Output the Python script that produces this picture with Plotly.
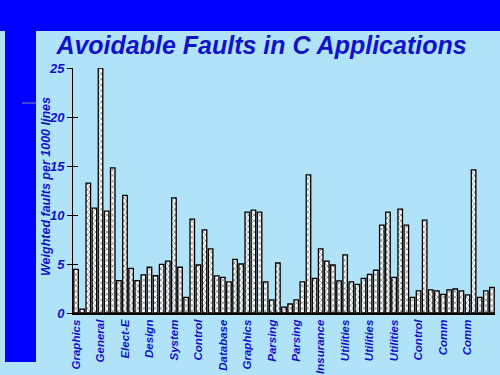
import plotly.graph_objects as go

# ---- data ----
fault_values = [4.46, 0.4, 13.25, 10.7, 25.0, 10.4, 14.8, 3.3, 12.0, 4.56,
                3.3, 3.9, 4.67, 3.8, 4.97, 5.3, 11.75, 4.67, 1.6, 9.57,
                4.9, 8.48, 6.54, 3.78, 3.64, 3.17, 5.48, 5.0, 10.3, 10.5,
                10.3, 3.17, 1.33, 5.1, 0.6, 0.92, 1.33, 3.17, 14.1, 3.54,
                6.54, 5.3, 4.9, 3.27, 5.93, 3.17, 2.93, 3.54, 3.95, 4.36,
                8.96, 10.3, 3.64, 10.6, 8.96, 1.6, 2.25, 9.47, 2.35, 2.25,
                1.9, 2.35, 2.45, 2.25, 1.84, 14.6, 1.6, 2.25, 2.62]
tick_labels = ["Graphics", "General", "Elect-E", "Design", "System", "Control",
               "Database", "Graphics", "Parsing", "Parsing", "Insurance",
               "Utilities", "Utilities", "Utilities", "Control", "Comm", "Comm"]
label_step = 4
y_ticks = [0, 5, 10, 15, 20, 25]

bar_index = list(range(len(fault_values)))
tick_positions = bar_index[::label_step][:len(tick_labels)]

W, H = 500, 375
L, R, T, B = 73, 495, 68, 313
BLUE_TEXT = "#1212cc"
BG = "#b0e2f8"
FONT = "Liberation Sans, Arial, sans-serif"

def px_x(p):
    return (p - L) / (R - L)

def px_y(p):
    return (B - p) / (B - T)

fig = go.Figure()
fig.add_trace(go.Bar(
    x=bar_index, y=fault_values,
    marker=dict(color="white", line=dict(color="black", width=1.3),
                pattern=dict(shape="x", fgcolor="black", bgcolor="white",
                             size=4, solidity=0.35)),
    width=0.74, showlegend=False, hoverinfo="skip", yaxis="y"))
fig.add_trace(go.Scatter(x=[None], y=[None], yaxis="y2", showlegend=False,
                         hoverinfo="skip"))

tickfont = dict(family=FONT, size=11.5, color=BLUE_TEXT, weight="bold",
                style="italic")
ytickfont = dict(family=FONT, size=13, color=BLUE_TEXT, weight="bold",
                 style="italic")

fig.update_layout(
    width=W, height=H,
    margin=dict(l=L, r=W - R, t=T, b=H - B, autoexpand=False),
    paper_bgcolor=BG, plot_bgcolor=BG,
    title=dict(text="Avoidable Faults in C Applications",
               x=261.5 / W, xref="container",
               y=1 - 45 / H, yref="container",
               xanchor="center", yanchor="middle",
               font=dict(family=FONT, size=25, color=BLUE_TEXT,
                         weight="bold", style="italic")),
    xaxis=dict(range=[-0.5, len(fault_values) - 0.5], tickmode="array",
               tickvals=tick_positions, ticktext=tick_labels, tickangle=-90,
               tickfont=tickfont, showgrid=False, zeroline=False,
               showline=True, linecolor="black", linewidth=2, ticks="",
               automargin=False),
    yaxis=dict(range=[0, 25], tickmode="array", tickvals=y_ticks,
               tickfont=ytickfont, showgrid=False, zeroline=False,
               showline=True, linecolor="black", linewidth=1,
               ticks="outside", ticklen=5, tickcolor="black",
               automargin=False),
    yaxis2=dict(range=[0, 25], overlaying="y", side="left", tickmode="array",
                tickvals=y_ticks, showticklabels=False, showgrid=False,
                zeroline=False, showline=False, ticks="inside", ticklen=5,
                tickcolor="black", automargin=False),
    annotations=[dict(text="Weighted faults per 1000 lines", textangle=-90,
                      xref="paper", yref="paper", x=px_x(46), y=px_y(187),
                      xanchor="center", yanchor="middle", showarrow=False,
                      font=dict(family=FONT, size=12.5, color=BLUE_TEXT,
                                weight="bold", style="italic"))],
    shapes=[
        dict(type="rect", xref="paper", yref="paper", layer="below",
             x0=px_x(0), x1=px_x(W), y0=px_y(31), y1=px_y(0),
             fillcolor="#0000ff", line=dict(width=0)),
        dict(type="rect", xref="paper", yref="paper", layer="below",
             x0=px_x(5), x1=px_x(36), y0=px_y(362), y1=px_y(31),
             fillcolor="#0000ff", line=dict(width=0)),
        dict(type="line", xref="paper", yref="paper",
             x0=px_x(22), x1=px_x(37), y0=px_y(103), y1=px_y(103),
             line=dict(color="#8a8ab0", width=1)),
    ],
)

fig.write_html("out.html", config={"displayModeBar": False},
               post_script="document.body.style.margin='0';"
                           "document.body.style.overflow='hidden';")
